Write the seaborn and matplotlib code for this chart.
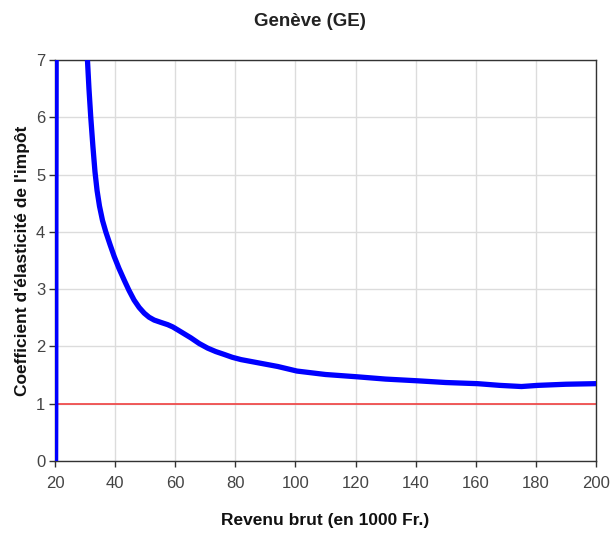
import matplotlib
matplotlib.use("Agg")
import matplotlib.pyplot as plt
import seaborn as sns
import pandas as pd

# Left (near-vertical) branch
x_left = [20.2, 20.25, 20.3, 20.35, 20.4]
y_left = [0.0, 0.8, 4.3, 5.7, 7.5]

# Right branch
x_right = [30.6, 30.8, 31.3, 31.9, 32.6, 33.3, 34.0, 34.8, 35.8, 36.9, 38.3, 39.7, 41.3,
           43.0, 44.6, 46.3, 48.0, 49.7, 51.3, 53.0, 55.2, 57.5, 59.2, 60.8, 63.0,
           65.2, 68.0, 70.8, 73.5, 76.3, 79.0, 81.9, 88.0, 94.1, 100.5, 110.0,
           120.5, 130.0, 140.6, 150.0, 160.6, 168.0, 175.2, 180.6, 190.0, 200.0]
y_right = [7.3, 7.0, 6.5, 6.0, 5.5, 5.05, 4.72, 4.45, 4.2, 4.0, 3.78, 3.57, 3.36,
           3.16, 2.98, 2.81, 2.68, 2.58, 2.51, 2.46, 2.42, 2.38, 2.34, 2.29, 2.22,
           2.15, 2.05, 1.97, 1.91, 1.86, 1.81, 1.77, 1.71, 1.65, 1.57, 1.51,
           1.47, 1.43, 1.40, 1.37, 1.35, 1.32, 1.30, 1.32, 1.34, 1.35]

ref_y = 1.0
x_ticks = [20, 40, 60, 80, 100, 120, 140, 160, 180, 200]
y_ticks = [0, 1, 2, 3, 4, 5, 6, 7]

title = "Genève (GE)"
xlabel = "Revenu brut (en 1000 Fr.)"
ylabel = "Coefficient d'élasticité de l'impôt"

sns.set_theme(style="whitegrid")
plt.rcParams['font.family'] = ['Liberation Sans', 'DejaVu Sans']

W, H = 613, 536
fig = plt.figure(figsize=(W / 100, H / 100), dpi=100)
L, R, T, B = 55, 596, 60, 461
ax = fig.add_axes([L / W, 1 - B / H, (R - L) / W, (B - T) / H])

df_left = pd.DataFrame({"x": x_left, "y": y_left})
df_right = pd.DataFrame({"x": x_right, "y": y_right})

ax.axhline(ref_y, color="#f04040", lw=1.2, zorder=2)
sns.lineplot(data=df_left, x="x", y="y", ax=ax, color="#0000ff", lw=3.8, sort=False, zorder=3)
sns.lineplot(data=df_right, x="x", y="y", ax=ax, color="#0000ff", lw=3.8, sort=False, zorder=3)

ax.set_xlim(20, 200)
ax.set_ylim(0, 7)
ax.set_xticks(x_ticks)
ax.set_yticks(y_ticks)
ax.grid(True, color="#dcdcdc", lw=1)
for s in ax.spines.values():
    s.set_color("#333333")
    s.set_linewidth(1.0)
ax.tick_params(axis="both", which="major", direction="out", length=4, width=1,
               color="#333333", labelcolor="#444444", labelsize=12, bottom=True, left=True)
ax.tick_params(axis="x", pad=7)
ax.tick_params(axis="y", pad=3)

fig.text(310 / W, 1 - 21 / H, title, fontsize=13.5, fontweight="bold", color="#222222",
         ha="center", va="center")
ax.set_xlabel(xlabel, fontsize=12.5, fontweight="bold", color="#111111")
ax.set_ylabel(ylabel, fontsize=12.5, fontweight="bold", color="#111111")
ax.xaxis.set_label_coords(0.5, (B - 520) / (B - T))
ax.xaxis.label.set_va("center")
ax.yaxis.set_label_coords((23 - L) / (R - L), 0.5)
ax.yaxis.label.set_va("center")

fig.savefig("out.png", dpi=100)
